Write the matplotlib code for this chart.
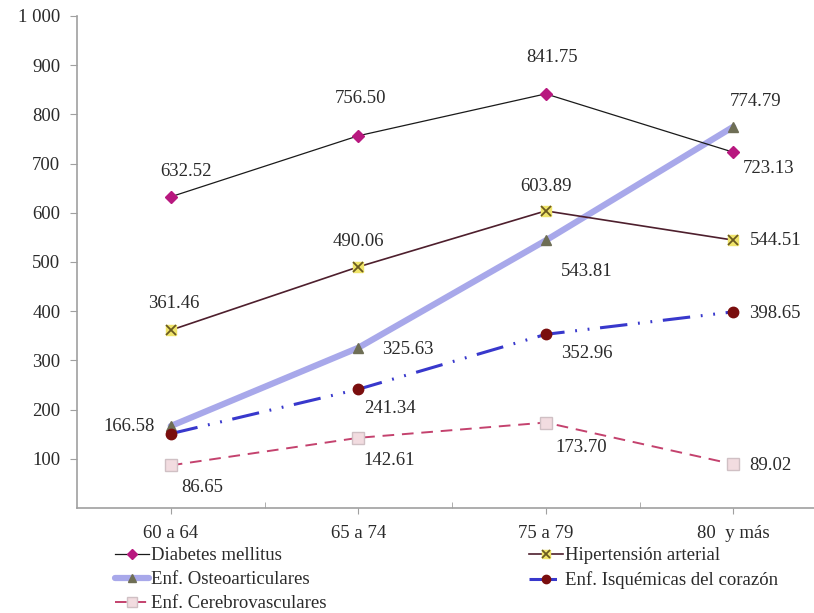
import matplotlib
matplotlib.use("Agg")
import matplotlib.pyplot as plt
from matplotlib.ticker import FixedLocator

plt.rcParams['font.family'] = ['Liberation Serif', 'DejaVu Serif']

categories = ["60 a 64", "65 a 74", "75 a 79", "80  y más"]
diabetes = [632.52, 756.50, 841.75, 723.13]
hipertension = [361.46, 490.06, 603.89, 544.51]
osteo = [166.58, 325.63, 543.81, 774.79]
isquemicas = [151.0, 241.34, 352.96, 398.65]
cerebro = [86.65, 142.61, 173.70, 89.02]

# which points carry a value label (the first ischaemic point is unlabelled)
isq_labeled = [False, True, True, True]

y_ticks = [100, 200, 300, 400, 500, 600, 700, 800, 900, 1000]
y_tick_labels = ["100", "200", "300", "400", "500", "600", "700", "800", "900", "1 000"]

W, H = 814, 613
fig = plt.figure(figsize=(W / 100, H / 100), dpi=100)
ax = fig.add_axes([77 / W, 105 / H, 750 / W, 492 / H])

x = list(range(len(categories)))
fs = 13.5
txt_color = '#2A2A2A'

# thick lavender line first so the others sit on top of it
l_ost, = ax.plot(x, osteo, color='#A8A8EA', lw=4.5, marker='^', ms=7.5,
                 mfc='#6E6E55', mec='#6E6E55', solid_capstyle='round', zorder=2)
l_dia, = ax.plot(x, diabetes, color='#1A1A1A', lw=0.9, marker='D', ms=6,
                 mfc='#B8187F', mec='#B8187F', zorder=3)
l_hip, = ax.plot(x, hipertension, color='#4E1F2D', lw=1.2, marker='s', ms=7.5,
                 mfc='#EFE46A', mec='#EFE46A', zorder=3)
l_hipx, = ax.plot(x, hipertension, ls='none', marker='x', ms=6.5, mew=1.3,
                  color='#6B5A20', zorder=4)
l_isq, = ax.plot(x, isquemicas, color='#3838CC', lw=2.2,
                 ls=(0, (9, 3.5, 0.6, 3.5, 0.6, 3.5)), marker='o', ms=7.5,
                 mfc='#7A0E0E', mec='#7A0E0E', zorder=3)
l_cer, = ax.plot(x, cerebro, color='#C4426E', lw=1.4, ls=(0, (6, 4)), marker='s', ms=8.5,
                 mfc='#F2DCE0', mec='#D0C0C4', zorder=3)

def label_series(vals, offsets, show=None):
    for i, (v, (dx, dy)) in enumerate(zip(vals, offsets)):
        if show is not None and not show[i]:
            continue
        ax.annotate(f"{v:.2f}", (i, v), xytext=(dx, dy), textcoords='offset pixels',
                    ha='center', va='center', fontsize=fs, color=txt_color, zorder=6)

label_series(diabetes, [(15, 25), (2, 37), (6, 36), (35, -16)])
label_series(hipertension, [(3, 27), (0, 25), (0, 24), (42, 0)])
label_series(osteo, [(-42, 0), (50, -2), (41, -31), (22, 25)])
label_series(isquemicas, [(0, 0), (32, -19), (41, -19), (42, -2)], isq_labeled)
label_series(cerebro, [(32, -22), (31, -23), (35, -25), (37, -1)])

ax.set_xlim(-0.5, 3.5)
ax.set_ylim(0, 1000)

ax.set_yticks(y_ticks)
ax.set_yticklabels(y_tick_labels, fontsize=fs, color=txt_color)
ax.set_xticks(x)
ax.set_xticklabels(categories, fontsize=fs, color=txt_color)
ax.xaxis.set_minor_locator(FixedLocator([0.5, 1.5, 2.5]))
ax.tick_params(axis='x', which='major', length=4, color='#A0A0A0', pad=8)
ax.tick_params(axis='x', which='minor', length=4, direction='in', color='#A0A0A0')
ax.tick_params(axis='y', length=5, color='#A0A0A0', pad=7)

for s in ['top', 'right']:
    ax.spines[s].set_visible(False)
for s in ['left', 'bottom']:
    ax.spines[s].set_color('#A0A0A0')
    ax.spines[s].set_linewidth(1.2)

handles = [l_dia, l_ost, l_cer, (l_hip, l_hipx), l_isq]
labels = ["Diabetes mellitus", "Enf. Osteoarticulares", "Enf. Cerebrovasculares",
          "Hipertensión arterial", "Enf. Isquémicas del corazón"]
leg = fig.legend(handles, labels, ncol=2, loc='upper left', bbox_to_anchor=(106 / W, 1 - 538 / H),
                 frameon=False, fontsize=fs, handlelength=1.8, handletextpad=0.12,
                 columnspacing=10.8, labelspacing=0.36, borderpad=0, markerscale=0.8)
for t in leg.get_texts():
    t.set_color(txt_color)

fig.savefig("out.png", dpi=100)
